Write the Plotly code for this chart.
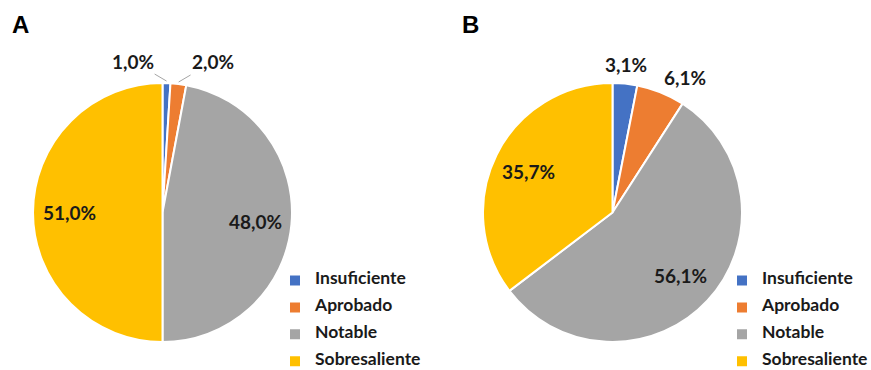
import math
import plotly.graph_objects as go

# ---- data ----
categories = ["Insuficiente", "Aprobado", "Notable", "Sobresaliente"]
values_a = [1.0, 2.0, 48.0, 51.0]
values_b = [3.1, 6.1, 56.1, 35.7]
panel_titles = ["A", "B"]

# ---- style ----
W, H = 871, 370
colors = ["#4472C4", "#ED7D31", "#A5A5A5", "#FFC000"]
FONT = "Lato"
R = 129.5
centers = [(162.5, 212.5), (612.5, 212.5)]


def fmt(v):
    return f"{v:.1f}".replace(".", ",") + "%"


def paper(x, y):
    return x / W, 1 - y / H


fig = go.Figure()
annotations = []

panels = [values_a, values_b]
legend_names = ["legend", "legend2"]
placement = [
    ["arrowL", "arrowR", "in", "in"],
    ["out", "out", "in", "in"],
]
span_styles = ["font-size:17.5px", "font-size:17.5px;"]  # distinct strings keep legends separate

for p, vals in enumerate(panels):
    cx, cy = centers[p]
    x0, y1 = paper(cx - R, cy - R)
    x1, y0 = paper(cx + R, cy + R)
    # legend entries: visible label on first line, empty second line for row spacing
    labels = [f'<span style="{span_styles[p]}">{c}</span><br>' for c in categories]
    fig.add_trace(go.Pie(
        labels=labels, values=vals, sort=False, direction="clockwise",
        rotation=0, textinfo="none", hoverinfo="percent",
        marker=dict(colors=colors, line=dict(color="white", width=2)),
        domain=dict(x=[x0, x1], y=[y0, y1]),
        legend=legend_names[p], showlegend=True,
    ))
    total = sum(vals)
    cum = 0.0
    for i, v in enumerate(vals):
        mid = (cum + v / 2) / total * 2 * math.pi
        cum += v
        sx, sy = math.sin(mid), -math.cos(mid)
        mode = placement[p][i]
        txt = fmt(v)
        font = dict(family=FONT, size=19, color="#1a1a1a")
        if mode == "in":
            r = 0.72 * R
            X, Y = paper(cx + r * sx, cy + r * sy)
            annotations.append(dict(x=X, y=Y, xref="paper", yref="paper", text=f"<b>{txt}</b>",
                                    showarrow=False, font=font, xanchor="center", yanchor="middle"))
        elif mode == "out":
            centered = abs(sx) < 0.2
            r = R + (6 if centered else 2)
            X, Y = paper(cx + r * sx, cy + r * sy)
            xa = "center" if centered else ("left" if sx > 0 else "right")
            annotations.append(dict(x=X, y=Y, xref="paper", yref="paper", text=f"<b>{txt}</b>",
                                    showarrow=False, font=font, xanchor=xa, yanchor="bottom"))
        else:
            r = R + 2
            X, Y = paper(cx + r * sx, cy + r * sy)
            ax = -34 if mode == "arrowL" else 34
            annotations.append(dict(x=X, y=Y, xref="paper", yref="paper", text=f"<b>{txt}</b>",
                                    showarrow=True, arrowhead=0, arrowwidth=1, arrowcolor="#A5A5A5",
                                    ax=ax, ay=-20, standoff=0, font=font))

for p, t in enumerate(panel_titles):
    X, Y = paper([10, 460][p], 25)
    annotations.append(dict(x=X, y=Y, xref="paper", yref="paper", text=f"<b>{t}</b>",
                            showarrow=False, xanchor="left", yanchor="middle",
                            font=dict(family="Liberation Sans", size=24, color="black")))

leg_common = dict(font=dict(family=FONT, size=9.2, color="#1a1a1a", weight="bold"),
                  bgcolor="rgba(0,0,0,0)", xanchor="left", yanchor="top", orientation="v",
                  valign="top")
lx1, ly = paper(275, 268)
lx2, _ = paper(722, 268)

fig.update_layout(
    width=W, height=H, margin=dict(l=0, r=0, t=0, b=0, autoexpand=False),
    paper_bgcolor="white", plot_bgcolor="white",
    annotations=annotations,
    legend=dict(x=lx1, y=ly, **leg_common),
    legend2=dict(x=lx2, y=ly, **leg_common),
)

fig.write_html("out.html")
